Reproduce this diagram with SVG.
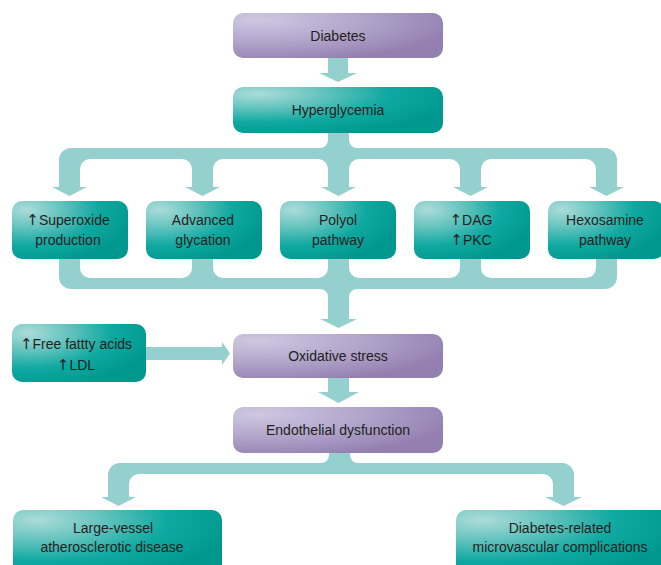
<svg xmlns="http://www.w3.org/2000/svg" width="661" height="565" viewBox="0 0 661 565">
<defs>
<radialGradient id="teal" cx="0.12" cy="0.15" r="0.95" fx="0.12" fy="0.15">
<stop offset="0" stop-color="#acdcd9"/>
<stop offset="0.35" stop-color="#5ec1bc"/>
<stop offset="0.65" stop-color="#10a9a1"/>
<stop offset="1" stop-color="#00988e"/>
</radialGradient>
<radialGradient id="purple" cx="0.12" cy="0.15" r="0.95" fx="0.12" fy="0.15">
<stop offset="0" stop-color="#cec8e1"/>
<stop offset="0.5" stop-color="#b3a7cc"/>
<stop offset="1" stop-color="#9480b0"/>
</radialGradient>
</defs>
<style>
.t{fill:url(#teal)}
.p{fill:url(#purple)}
.c{fill:#94d1ce}
text{font-family:"Liberation Sans",Arial,sans-serif;font-size:14px;fill:#231f20;text-anchor:middle}
.a{font-family:"DejaVu Sans",sans-serif;font-size:15px}
</style>
<g id="connectors">
<path class="c" d="M328,58 L348,58 L348,73 L357,73 L338,82 L319,73 L328,73 Z"/>
<path class="c" d="M328,133 L349,133 L349,140 A8,8 0 0 0 357,148 L605,148 A12,12 0 0 1 617,160 L617,187 L624,187 L606.5,196 L589,187 L596,187 L596,169 A10,10 0 0 0 586,159 L491,159 A10,10 0 0 0 481,169 L481,187 L488,187 L470.5,196 L453,187 L460,187 L460,169 A10,10 0 0 0 450,159 L359,159 A10,10 0 0 0 349,169 L349,187 L356,187 L338.5,196 L321,187 L328,187 L328,169 A10,10 0 0 0 318,159 L223,159 A10,10 0 0 0 213,169 L213,187 L220,187 L202.5,196 L185,187 L192,187 L192,169 A10,10 0 0 0 182,159 L90,159 A10,10 0 0 0 80,169 L80,187 L87,187 L69.5,196 L52,187 L59,187 L59,160 A12,12 0 0 1 71,148 L320,148 A8,8 0 0 0 328,140 Z"/>
<path class="c" d="M59,252 L80,252 L80,268 A10,10 0 0 0 90,278 L182,278 A10,10 0 0 0 192,268 L192,252 L213,252 L213,268 A10,10 0 0 0 223,278 L318,278 A10,10 0 0 0 328,268 L328,252 L349,252 L349,268 A10,10 0 0 0 359,278 L450,278 A10,10 0 0 0 460,268 L460,252 L481,252 L481,268 A10,10 0 0 0 491,278 L586,278 A10,10 0 0 0 596,268 L596,252 L617,252 L617,277 A12,12 0 0 1 605,289 L357,289 A8,8 0 0 0 349,297 L349,319 L357,319 L338.5,328 L320,319 L328,319 L328,297 A8,8 0 0 0 320,289 L71,289 A12,12 0 0 1 59,277 Z"/>
<path class="c" d="M146,347 L222,347 L222,342 L230,353.5 L222,365 L222,360 L146,360 Z"/>
<path class="c" d="M328,378 L349,378 L349,392 L359,392 L338.5,403 L318,392 L328,392 Z"/>
<path class="c" d="M329,453 L350,453 L350,455 A8,8 0 0 0 358,463 L562,463 A12,12 0 0 1 574,475 L574,497 L582,497 L563.5,506 L545,497 L553,497 L553,484 A10,10 0 0 0 543,474 L139,474 A10,10 0 0 0 129,484 L129,497 L136,497 L118.5,506 L101,497 L108,497 L108,475 A12,12 0 0 1 120,463 L321,463 A8,8 0 0 0 329,455 Z"/>
</g>
<g id="diabetes"><rect class="p" x="233" y="13" width="210" height="45" rx="10"/><text x="338" y="40.5">Diabetes</text></g>
<g id="hyperglycemia"><rect class="t" x="233" y="87" width="210" height="46" rx="10"/><text x="338" y="115">Hyperglycemia</text></g>
<g id="superoxide"><rect class="t" x="12" y="201" width="116" height="58" rx="10"/><text x="68" y="225"><tspan class="a">↑</tspan>Superoxide</text><text x="68" y="245">production</text></g>
<g id="advanced-glycation"><rect class="t" x="146" y="201" width="116" height="58" rx="10"/><text x="203" y="225">Advanced</text><text x="203" y="245">glycation</text></g>
<g id="polyol"><rect class="t" x="280" y="201" width="116" height="58" rx="10"/><text x="338" y="225">Polyol</text><text x="338" y="245">pathway</text></g>
<g id="dag-pkc"><rect class="t" x="414" y="201" width="116" height="58" rx="10"/><text x="471" y="225"><tspan class="a">↑</tspan>DAG</text><text x="471" y="245"><tspan class="a">↑</tspan>PKC</text></g>
<g id="hexosamine"><rect class="t" x="548" y="201" width="116" height="58" rx="10"/><text x="605" y="225">Hexosamine</text><text x="605" y="245">pathway</text></g>
<g id="ffa-ldl"><rect class="t" x="12" y="324" width="134" height="58" rx="10"/><text x="76" y="349"><tspan class="a">↑</tspan>Free fattty acids</text><text x="76" y="370"><tspan class="a">↑</tspan>LDL</text></g>
<g id="oxidative-stress"><rect class="p" x="233" y="334" width="210" height="44" rx="10"/><text x="338" y="361">Oxidative stress</text></g>
<g id="endothelial-dysfunction"><rect class="p" x="233" y="407" width="210" height="46" rx="10"/><text x="338" y="435">Endothelial dysfunction</text></g>
<g id="large-vessel"><rect class="t" x="13" y="510" width="209" height="66" rx="10"/><text x="113" y="533">Large-vessel</text><text x="112" y="552">atherosclerotic disease</text></g>
<g id="microvascular"><rect class="t" x="456" y="510" width="215" height="66" rx="10"/><text x="560" y="533">Diabetes-related</text><text x="560" y="552">microvascular complications</text></g>
</svg>
